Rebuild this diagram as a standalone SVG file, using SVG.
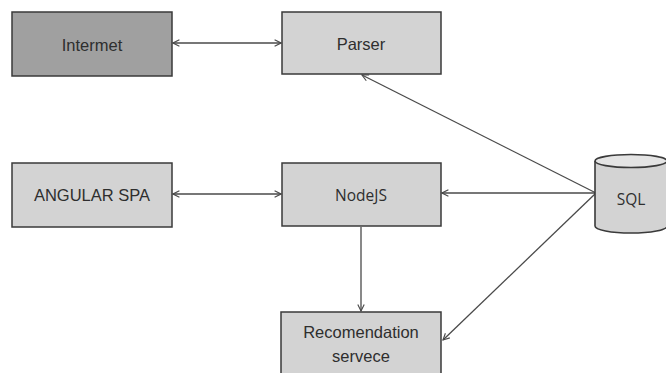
<svg xmlns="http://www.w3.org/2000/svg" width="666" height="373" viewBox="0 0 666 373">
<defs>
<style>
.box{fill:#d3d3d3;stroke:#3a3a3a;stroke-width:1.5}
.dark{fill:#a0a0a0}
.t{font-family:"Liberation Sans",Arial,sans-serif;font-size:16.5px;fill:#2e2e2e;text-anchor:middle;dominant-baseline:central}
.r{font-family:"Open Sans","Liberation Sans",sans-serif;font-size:15.5px}
.c{stroke:#4a4a4a;stroke-width:1.3;fill:none}
</style>
<marker id="ah" viewBox="0 0 10 10" refX="9" refY="5" markerWidth="8" markerHeight="8" markerUnits="userSpaceOnUse" orient="auto-start-reverse">
<path d="M1,1 L9,5 L1,9" fill="none" stroke="#4a4a4a" stroke-width="1.4"/>
</marker>
</defs>
<rect width="666" height="373" fill="#fff"/>
<g id="connectors">
<line class="c" x1="173" y1="43" x2="281" y2="43" marker-start="url(#ah)" marker-end="url(#ah)"/>
<line class="c" x1="173" y1="194" x2="281" y2="194" marker-start="url(#ah)" marker-end="url(#ah)"/>
<line class="c" x1="596" y1="193" x2="442" y2="193" marker-end="url(#ah)"/>
<line class="c" x1="596" y1="193" x2="362" y2="75" marker-end="url(#ah)"/>
<line class="c" x1="596" y1="193" x2="443" y2="340" marker-end="url(#ah)"/>
<line class="c" x1="361" y1="227" x2="361" y2="311" marker-end="url(#ah)"/>
</g>
<g id="internet">
<rect class="box dark" x="12" y="12" width="160" height="64"/>
<text class="t" x="92" y="45">Intermet</text>
</g>
<g id="parser">
<rect class="box" x="282" y="12" width="159" height="62"/>
<text class="t" x="361" y="44">Parser</text>
</g>
<g id="angular">
<rect class="box" x="12" y="163" width="160" height="64"/>
<text class="t" x="92" y="195">ANGULAR SPA</text>
</g>
<g id="nodejs">
<rect class="box" x="282" y="163" width="159" height="63"/>
<text class="t r" x="361" y="195">NodeJS</text>
</g>
<g id="recommendation">
<rect class="box" x="281" y="312" width="160" height="70"/>
<text class="t" x="361" y="332">Recomendation</text>
<text class="t" x="361" y="356">servece</text>
</g>
<g id="sql">
<path d="M595,161 L595,226 A36,7 0 0 0 667,226 L667,161" fill="#d3d3d3" stroke="#3a3a3a" stroke-width="1.6"/>
<ellipse cx="631" cy="161" rx="36" ry="6.5" fill="#e4e4e4" stroke="#3a3a3a" stroke-width="1.6"/>
<text class="t r" x="631" y="199">SQL</text>
</g>
</svg>
